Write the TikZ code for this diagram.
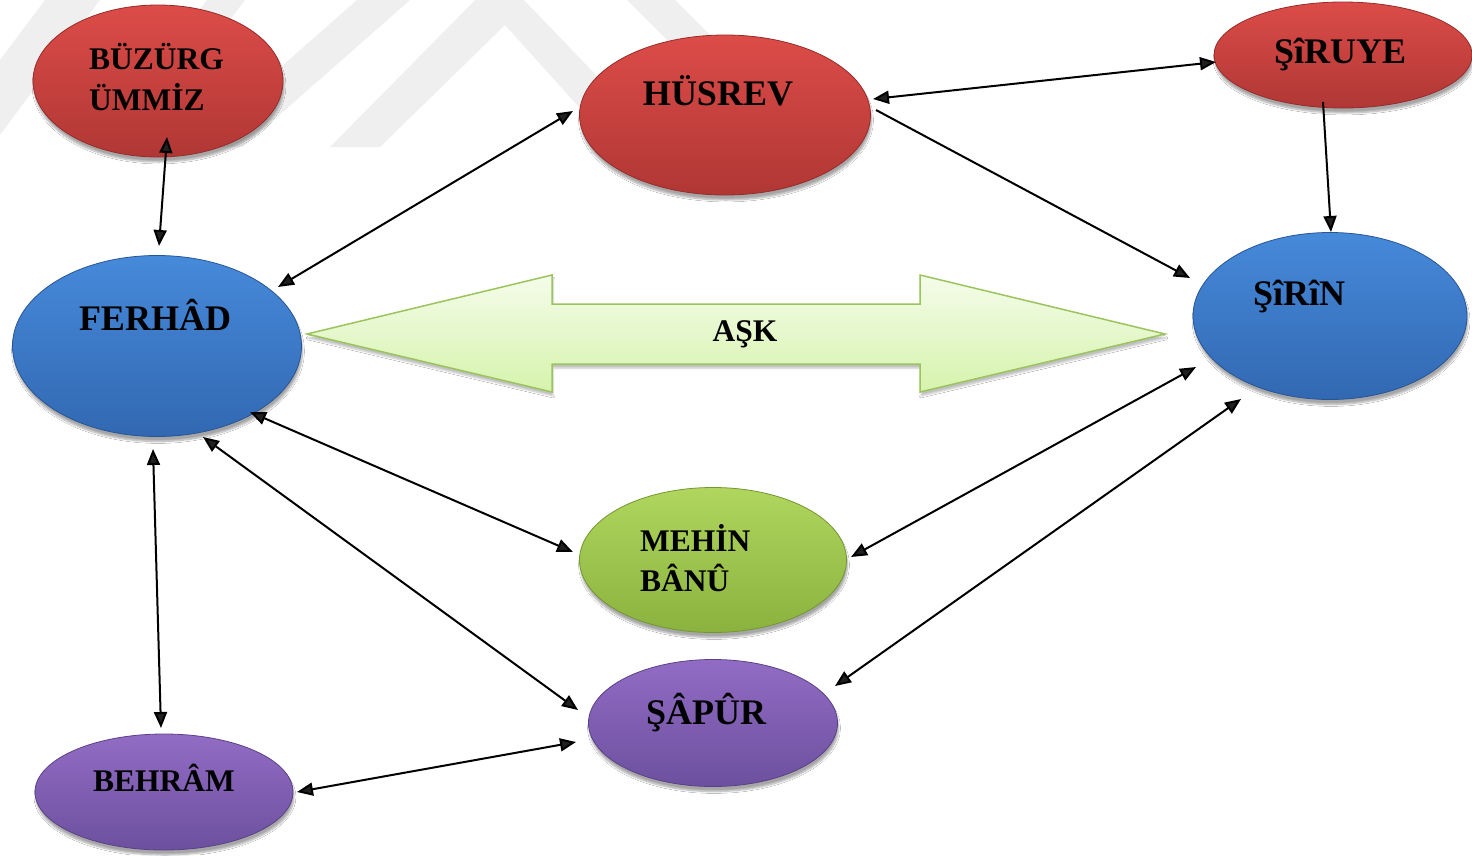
\documentclass[tikz,border=0pt]{standalone}
\usepackage{fontspec}
\setmainfont{Liberation Serif}
\usetikzlibrary{arrows.meta,calc,shapes.geometric,shadows.blur}

% fill colours of the character groups
\definecolor{redtop}{RGB}{220,76,72}
\definecolor{redbot}{RGB}{176,55,53}
\definecolor{rededge}{RGB}{150,44,42}
\definecolor{bluetop}{RGB}{70,138,218}
\definecolor{bluebot}{RGB}{50,104,178}
\definecolor{blueedge}{RGB}{40,85,150}
\definecolor{greentop}{RGB}{176,214,94}
\definecolor{greenbot}{RGB}{138,178,62}
\definecolor{greenedge}{RGB}{115,150,50}
\definecolor{purpletop}{RGB}{146,108,196}
\definecolor{purplebot}{RGB}{108,80,158}
\definecolor{purpleedge}{RGB}{90,65,135}
\definecolor{asktop}{RGB}{244,252,234}
\definecolor{askbot}{RGB}{214,243,172}
\definecolor{askedge}{RGB}{155,196,92}
\definecolor{wmgray}{RGB}{239,239,239}

\tikzset{
  blob/.style={ellipse, inner sep=0pt, outer sep=0pt, line width=0.8pt,
    draw=#1edge, top color=#1top, bottom color=#1bot,
    blur shadow={shadow xshift=1pt, shadow yshift=-5pt, shadow opacity=35, shadow blur steps=8}},
  big/.style={font=\fontsize{36}{40}\selectfont\bfseries, inner sep=0pt},
  small/.style={font=\fontsize{31.5}{36}\selectfont\bfseries, inner sep=0pt},
  tip/.tip={Triangle[length=16pt,width=13pt]},
  both/.style={line width=2pt, tip-tip},
  one/.style={line width=2pt, -tip},
  wm/.style={fill=wmgray},
}

\begin{document}
\begin{tikzpicture}[x=1pt,y=-1pt]
\useasboundingbox (0,0) rectangle (1472,855);
\fill[white] (0,0) rectangle (1472,855);

% faint chevron watermark along the top
\begin{scope}
\clip (0,0) rectangle (1472,147);
\path[wm] (0,60) -- (45,0) -- (100,0) -- (0,135) -- cycle;
\path[wm] (94,147) -- (207,0) -- (245,0) -- (132,147) -- cycle;
\path[wm] (190,147) -- (357,0) -- (410,0) -- (243,147) -- cycle;
\path[wm] (330,147) -- (500,-25) -- (665,147) -- (615,147) -- (505,25) -- (380,147) -- cycle;
\path[wm] (627,0) -- (675,0) -- (822,147) -- (774,147) -- cycle;
\end{scope}

% the love arrow between the two lovers
\path[top color=asktop, bottom color=askbot, draw=askedge, line width=1.5pt,
      blur shadow={shadow xshift=1pt, shadow yshift=-4pt, shadow opacity=25}]
  (307,334) -- (552,275) -- (552,304) -- (920,304) -- (920,275) -- (1165,334)
  -- (920,392) -- (920,364) -- (552,364) -- (552,392) -- cycle;
\node[small] (ask) at (745,334) {AŞK};

% characters
\node[blob=red, minimum width=250pt, minimum height=152pt] (buz) at (158,81) {};
\node[blob=red, minimum width=291pt, minimum height=160pt] (hus) at (725,115) {};
\node[blob=red, minimum width=258pt, minimum height=106pt] (sir) at (1343,55) {};
\node[blob=blue, minimum width=274pt, minimum height=167pt] (sirin) at (1330,316) {};
\node[blob=blue, minimum width=289pt, minimum height=181pt] (fer) at (157,346) {};
\node[blob=green, minimum width=267pt, minimum height=145pt] (meh) at (713,560) {};
\node[blob=purple, minimum width=249pt, minimum height=127pt] (sap) at (713,723) {};
\node[blob=purple, minimum width=258pt, minimum height=116pt] (beh) at (164,792) {};

% names
\node[small, anchor=base west] (buz-a) at (89,69) {BÜZÜRG};
\node[small, anchor=base west] (buz-b) at (89,110) {ÜMMİZ};
\node[big, anchor=base] (hus-t) at (718,105) {HÜSREV};
\node[big, anchor=base] (sir-t) at (1340,63) {ŞîRUYE};
\node[big, anchor=base west] (sirin-t) at (1253,305) {ŞîRîN};
\node[big, anchor=base] (fer-t) at (155,330) {FERHÂD};
\node[small, anchor=base west] (meh-a) at (640,551) {MEHİN};
\node[small, anchor=base west] (meh-b) at (640,591) {BÂNÛ};
\node[big, anchor=base] (sap-t) at (706,724) {ŞÂPÛR};
\node[small, anchor=base] (beh-t) at (164,791) {BEHRÂM};

% relations
\draw[both] ($(buz)+(9,56)$) -- ($(fer)+(2,-100)$);
\draw[both] ($(fer)+(121,-59)$) -- ($(hus)+(-152,-4)$);
\draw[both] ($(hus)+(148,-16)$) -- ($(sir)+(-127,7)$);
\draw[one]  ($(hus)+(151,-5)$) -- ($(sirin)+(-140,-38)$);
\draw[one]  ($(sir)+(-20,47)$) -- ($(sirin)+(1,-84)$);
\draw[both] ($(fer)+(93,66)$) -- ($(meh)+(-140,-8)$);
\draw[both] ($(sirin)+(-134,51)$) -- ($(meh)+(138,-3)$);
\draw[both] ($(fer)+(46,91)$) -- ($(sap)+(-135,-13)$);
\draw[both] ($(sirin)+(-89,83)$) -- ($(sap)+(122,-37)$);
\draw[both] ($(fer)+(-4,103)$) -- ($(beh)+(-3,-64)$);
\draw[both] ($(beh)+(133,0)$) -- ($(sap)+(-137,19)$);
\end{tikzpicture}
\end{document}
